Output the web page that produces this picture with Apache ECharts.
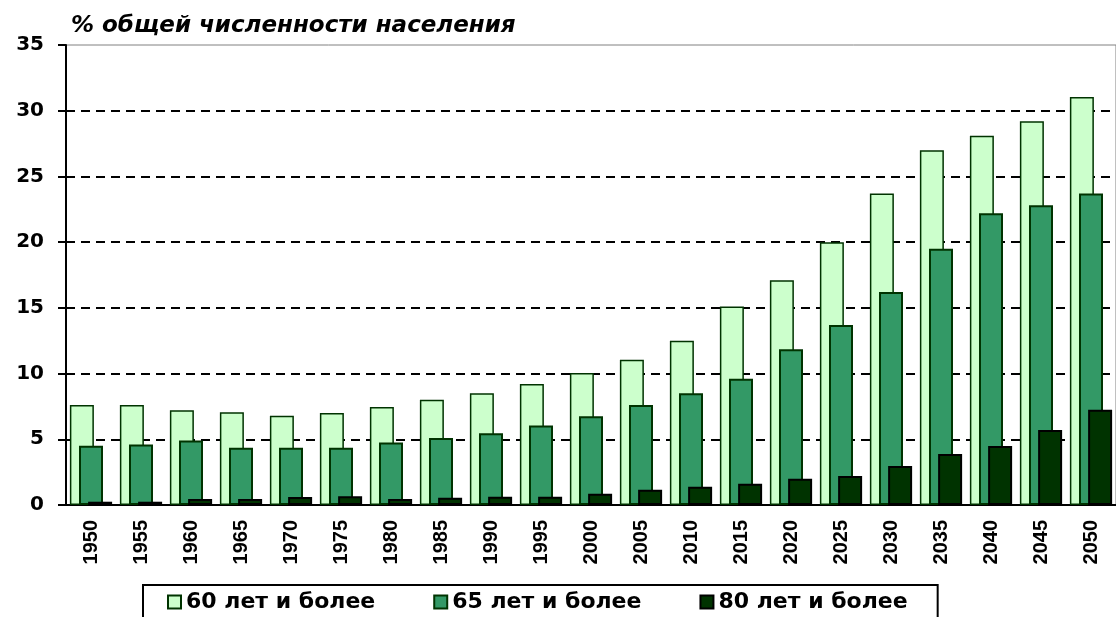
<!DOCTYPE html>
<html>
<head>
<meta charset="utf-8">
<script src="https://cdn.jsdelivr.net/npm/echarts@6/dist/echarts.min.js"></script>
<style>
  html, body { margin: 0; padding: 0; background: #fff; }
  #chart { width: 1116px; height: 617px; }
</style>
</head>
<body>
<div id="chart"></div>
<script>
// Доля пожилых в общей численности населения, %
const years = ['1950','1955','1960','1965','1970','1975','1980','1985','1990','1995','2000',
               '2005','2010','2015','2020','2025','2030','2035','2040','2045','2050'];
const age60 = [7.6, 7.6, 7.2, 7.05, 6.8, 7.0, 7.45, 8.0, 8.5, 9.2, 10.05,
               11.05, 12.5, 15.1, 17.1, 20.0, 23.7, 27.0, 28.1, 29.2, 31.05];
const age65 = [4.5, 4.6, 4.9, 4.35, 4.35, 4.35, 4.75, 5.1, 5.45, 6.05, 6.75,
               7.6, 8.5, 9.6, 11.85, 13.7, 16.2, 19.5, 22.2, 22.8, 23.7];
const age80 = [0.25, 0.25, 0.45, 0.45, 0.6, 0.67, 0.45, 0.55, 0.63, 0.63, 0.86,
               1.16, 1.39, 1.62, 2.0, 2.2, 2.96, 3.88, 4.49, 5.71, 7.24];
const seriesNames = ['60 лет и более', '65 лет и более', '80 лет и более'];
const yTicks = { min: 0, max: 35, step: 5 };
const titleText = '% общей численности населения';

const chart = echarts.init(document.getElementById('chart'), null, { renderer: 'canvas' });

const boldFont = 'DejaVu Sans';

function barSeries(name, data, fill, border, bw) {
  return {
    name: name,
    type: 'bar',
    data: data,
    barWidth: 24,
    barGap: '-62%',
    itemStyle: { color: fill, borderColor: border, borderWidth: bw },
    emphasis: { disabled: true },
    animation: false
  };
}

// цвет линий сетки: верхняя линия рисуется рамкой области построения
const gridColors = [];
for (let v = yTicks.min; v <= yTicks.max; v += yTicks.step) {
  gridColors.push(v === yTicks.max ? 'rgba(0,0,0,0)' : '#000');
}

chart.setOption({
  animation: false,
  backgroundColor: '#fff',
  title: {
    text: titleText,
    left: 66,
    top: 10,
    textStyle: {
      fontFamily: boldFont,
      fontSize: 23,
      fontStyle: 'italic',
      fontWeight: 'bold',
      color: '#000'
    }
  },
  grid: {
    left: 66,
    right: -5,
    top: 45,
    bottom: 112,
    show: true,
    borderColor: '#808080',
    borderWidth: 1,
    backgroundColor: 'transparent'
  },
  legend: {
    data: seriesNames,
    left: 143,
    top: 585,
    padding: [6, 30, 30, 24],
    itemGap: 58,
    itemWidth: 13,
    itemHeight: 13,
    icon: 'rect',
    borderColor: '#000',
    borderWidth: 2,
    textStyle: {
      fontFamily: boldFont,
      fontWeight: 'bold',
      fontSize: 22,
      color: '#000'
    }
  },
  xAxis: {
    type: 'category',
    data: years,
    boundaryGap: true,
    axisLine: { show: true, lineStyle: { color: '#000', width: 2 } },
    axisTick: { show: false },
    axisLabel: {
      rotate: 90,
      margin: 15,
      interval: 0,
      fontFamily: 'Liberation Sans Narrow, Liberation Sans',
      fontWeight: 'bold',
      fontSize: 20,
      color: '#000'
    },
    splitLine: { show: false }
  },
  yAxis: {
    type: 'value',
    min: yTicks.min,
    max: yTicks.max,
    interval: yTicks.step,
    axisLine: { show: true, lineStyle: { color: '#000', width: 2 } },
    axisTick: { show: true, inside: false, length: 8, lineStyle: { color: '#000', width: 2 } },
    axisLabel: {
      margin: 22,
      fontFamily: boldFont,
      fontWeight: 'bold',
      fontSize: 20,
      color: '#000'
    },
    splitLine: {
      show: true,
      lineStyle: { color: gridColors, width: 2, type: [9, 6] }
    }
  },
  series: [
    barSeries(seriesNames[0], age60, '#CCFFCC', '#003300', 1.5),
    barSeries(seriesNames[1], age65, '#339966', '#003300', 2),
    barSeries(seriesNames[2], age80, '#003300', '#000000', 2)
  ]
});
</script>
</body>
</html>
